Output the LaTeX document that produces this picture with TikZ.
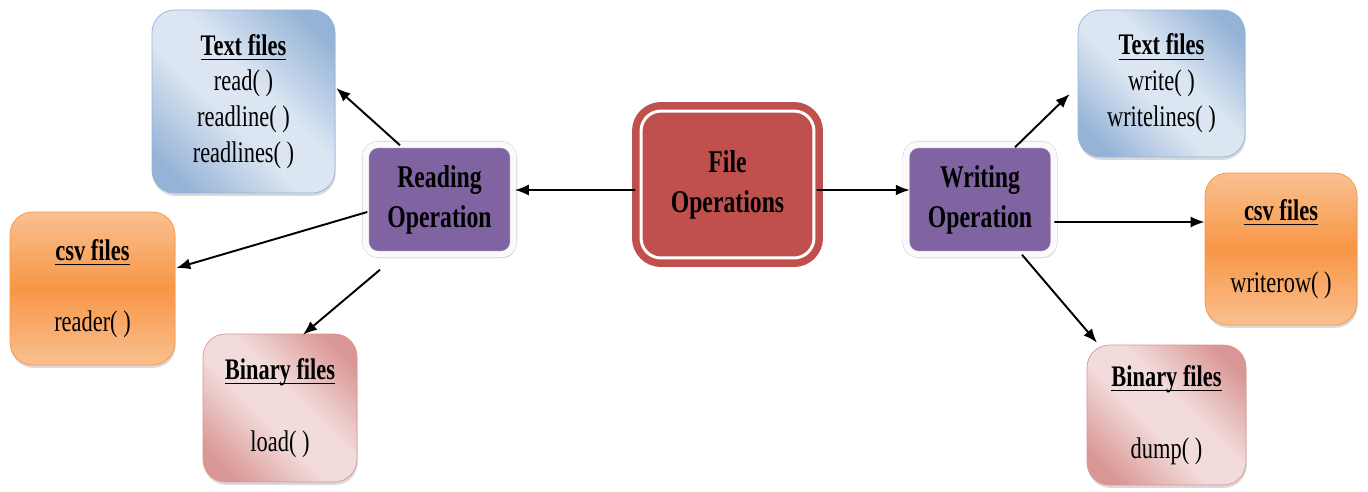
\documentclass[tikz,border=0pt]{standalone}
\usepackage{fontspec}
\setmainfont[FakeStretch=0.75]{Liberation Serif}
\usetikzlibrary{calc}
\usetikzlibrary{shadows}
\usetikzlibrary{arrows.meta}

\definecolor{blueL}{HTML}{DCE6F2}
\definecolor{blueD}{HTML}{95B3D7}
\definecolor{orgL}{HTML}{FAC090}
\definecolor{orgD}{HTML}{F79646}
\definecolor{pinkL}{HTML}{F2DCDB}
\definecolor{pinkD}{HTML}{D99694}
\definecolor{fileRed}{HTML}{C0504D}
\definecolor{opPurple}{HTML}{8064A2}

\pgfdeclareverticalshading{blueband}{100bp}{color(0bp)=(blueD); color(22bp)=(blueD); color(44bp)=(blueL); color(56bp)=(blueL); color(78bp)=(blueD); color(100bp)=(blueD)}
\pgfdeclareverticalshading{orangeband}{100bp}{color(0bp)=(orgL); color(25bp)=(orgL); color(50bp)=(orgD); color(75bp)=(orgL); color(100bp)=(orgL)}
\pgfdeclareverticalshading{pinkband}{100bp}{color(0bp)=(pinkD); color(22bp)=(pinkD); color(44bp)=(pinkL); color(56bp)=(pinkL); color(78bp)=(pinkD); color(100bp)=(pinkD)}

\newcommand{\ftitle}[1]{\textbf{\setbox0\hbox{#1}\rlap{\rule[-2.8pt]{\wd0}{0.8pt}}\box0}}

\tikzset{
  filebox/.style={rectangle, rounded corners=0.45cm, align=center, line width=0.4pt,
    font=\fontsize{17}{20.4}\selectfont,
    drop shadow={shadow xshift=0.4pt, shadow yshift=-1.6pt, opacity=0.3}},
  txtbox/.style={filebox, draw=blueD, shading=blueband, shading angle=-45},
  csvbox/.style={filebox, draw=orgD, shading=orangeband},
  binbox/.style={filebox, draw=pinkD, shading=pinkband, shading angle=-45},
  opbox/.style={rectangle, rounded corners=0.25cm, fill=opPurple, draw=gray!35, line width=0.3pt,
    double=gray!4, double distance=0.12cm, align=center,
    font=\fontsize{18}{22.7}\selectfont\bfseries, minimum width=2.96cm, minimum height=2.2cm,
    drop shadow={shadow xshift=1.2pt, shadow yshift=-2pt, opacity=0.4}},
  mainbox/.style={rectangle, rounded corners=0.4cm, fill=fileRed, draw=fileRed, line width=0.15cm,
    double=white, double distance=0.06cm, align=center,
    font=\fontsize{18}{22.7}\selectfont\bfseries}
}

\begin{document}
\begin{tikzpicture}[x=0.02cm, y=-0.02cm, >={Latex[length=0.28cm,width=0.22cm]}]
        \useasboundingbox (0,0) rectangle (1368,491);

        \node[mainbox, minimum width=3.46cm, minimum height=2.94cm] (FO) at (727.5,184.5) {File\\Operations};
        \node[opbox] (RO) at (439.5,199.5) {Reading\\Operation};
        \node[opbox] (WO) at (980,199.5) {Writing\\Operation};

        \node[txtbox, minimum width=3.66cm, minimum height=3.66cm] (Rt) at (243.5,101.5) {\ftitle{Text files}\\read( )\\readline( )\\readlines( )};
        \node[csvbox, minimum width=3.3cm, minimum height=3.06cm] (Rc) at (92.5,288.5) {\ftitle{csv files}\\[20.4pt]reader( )};
        \node[binbox, minimum width=3.08cm, minimum height=2.96cm] (Rb) at (280,408) {\ftitle{Binary files}\\[20.4pt]load( )};

        \node[txtbox, minimum width=3.34cm, minimum height=2.94cm] (Wt) at (1161.5,83.5) {\ftitle{Text files}\\write( )\\writelines( )};
        \node[csvbox, minimum width=3.04cm, minimum height=3.04cm] (Wc) at (1281,249) {\ftitle{csv files}\\[20.4pt]writerow( )};
        \node[binbox, minimum width=3.18cm, minimum height=2.8cm] (Wb) at (1166.5,415) {\ftitle{Binary files}\\[20.4pt]dump( )};

        \draw[->, line width=1.1pt] ($(FO.west)+(-2,5.5)$) -- ($(RO.east)+(1,-9.5)$);
        \draw[->, line width=1.1pt] ($(FO.east)+(-1,5.5)$) -- ($(WO.west)+(4,-9.5)$);

        \draw[->, line width=1.1pt] ($(RO.north)+(-39.5,1)$) -- ($(Rt.east)+(1,-13.5)$);
        \draw[->, line width=1.1pt] ($(RO.west)+(2,12.5)$) -- ($(Rc.east)+(1,-20.5)$);
        \draw[->, line width=1.1pt] ($(RO.south)+(-59.5,15)$) -- ($(Rb.north)+(23,1)$);

        \draw[->, line width=1.1pt] ($(WO.north)+(35,3)$) -- ($(Wt.west)+(-8,10.5)$);
        \draw[->, line width=1.1pt] ($(WO.east)+(0,22.5)$) -- ($(Wc.west)+(0,-27)$);
        \draw[->, line width=1.1pt] ($(WO.south)+(42,0)$) -- ($(Wb.north)+(-69.5,-2)$);

    \end{tikzpicture}
\end{document}
